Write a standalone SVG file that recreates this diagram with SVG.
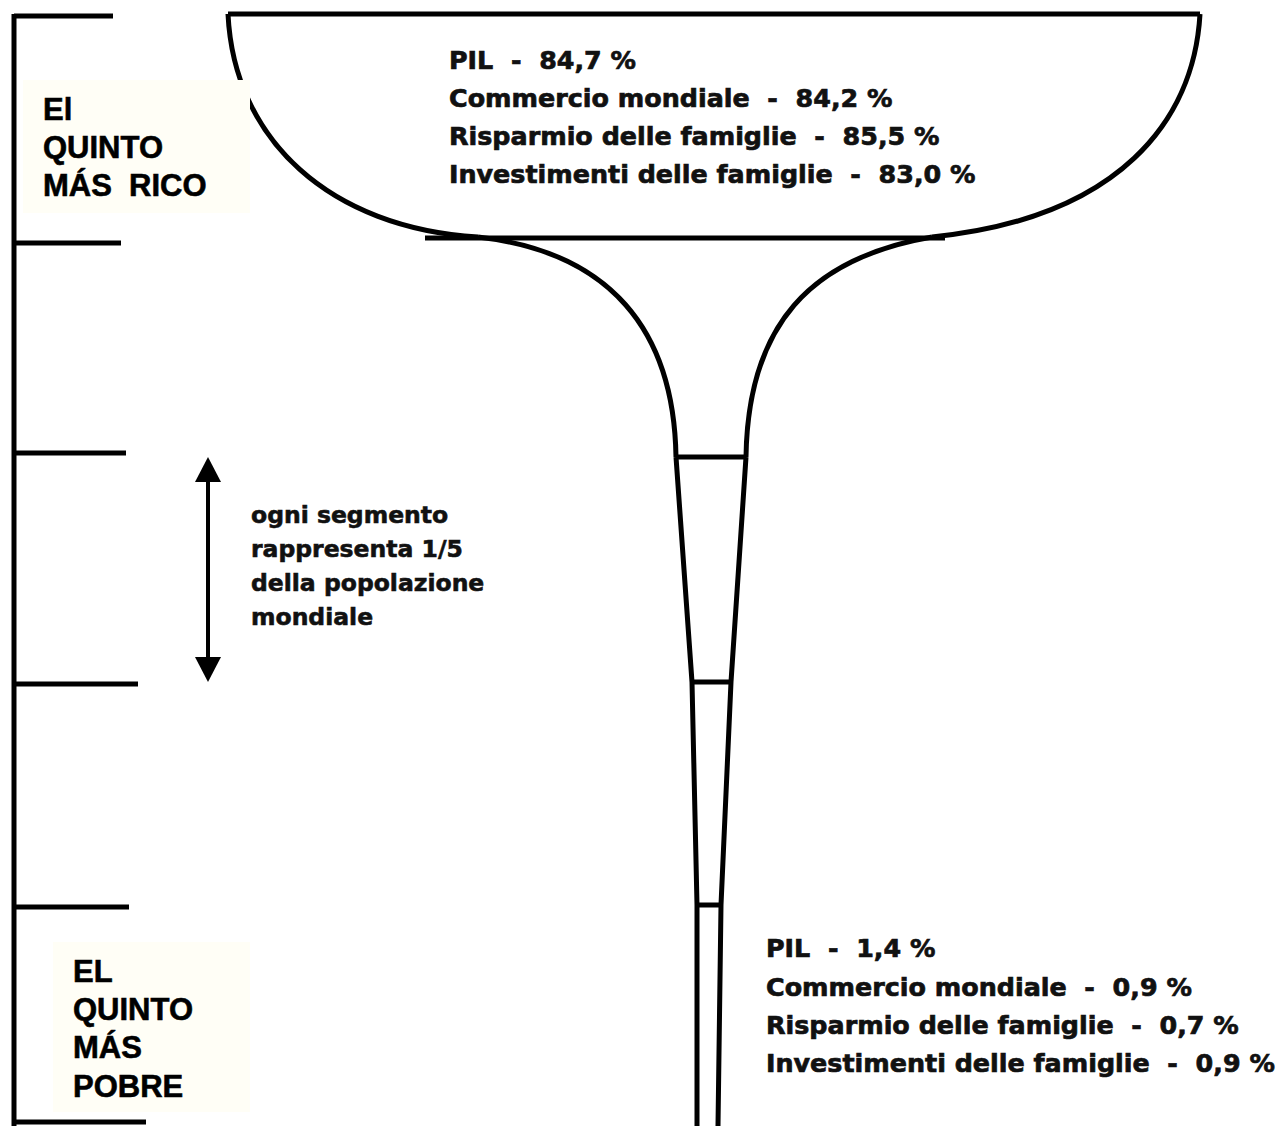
<svg xmlns="http://www.w3.org/2000/svg" width="1280" height="1126" viewBox="0 0 1280 1126">
<defs>
<style>
.ln{fill:none;stroke:#000;stroke-width:5;stroke-linecap:butt;stroke-linejoin:round}
.lab{font-family:"Liberation Sans",Arial,sans-serif;font-weight:700;font-size:31px;fill:#000;stroke:#000;stroke-width:0.6}
.dat{font-family:"DejaVu Sans",sans-serif;font-weight:bold;font-size:25.4px;fill:#111;stroke:#111;stroke-width:0.7;white-space:pre}
.mid{font-family:"DejaVu Sans",sans-serif;font-weight:bold;font-size:23.5px;fill:#111;stroke:#111;stroke-width:0.6}
.box{fill:#fffef6}
</style>
</defs>
<rect width="1280" height="1126" fill="#fff"/>

<g id="scale">
<path class="ln" d="M14,14 V1126"/>
<path class="ln" d="M14,16 H113"/>
<path class="ln" d="M14,243 H121"/>
<path class="ln" d="M14,453 H126"/>
<path class="ln" d="M14,684 H138"/>
<path class="ln" d="M14,907 H129"/>
<path class="ln" d="M14,1122 H146"/>
</g>

<g id="funnel">
<path class="ln" d="M228,14 H1200"/>
<path class="ln" d="M228,14 C234,140 330,228 478,237"/>
<path class="ln" d="M1200,14 C1194,120 1120,218 932,237"/>
<path class="ln" d="M425,238 H945"/>
<path class="ln" d="M478,237 C610,252 674,330 676,457"/>
<path class="ln" d="M932,237 C810,258 748,325 746,457"/>
<path class="ln" d="M676,457 L692,682 L697,905 L697,1126"/>
<path class="ln" d="M746,457 L731,682 L721,905 L718,1126"/>
<path class="ln" d="M676,457 H746"/>
<path class="ln" d="M692,682 H731"/>
<path class="ln" d="M697,905 H721"/>
</g>

<g id="top-label">
<rect class="box" x="23" y="80" width="227" height="133"/>
<text class="lab" x="43" y="120">El</text>
<text class="lab" x="43" y="158">QUINTO</text>
<text class="lab" x="43" y="196" xml:space="preserve">MÁS  RICO</text>
</g>

<g id="bottom-label">
<rect class="box" x="53" y="942" width="197" height="170"/>
<text class="lab" x="73" y="982">EL</text>
<text class="lab" x="73" y="1020">QUINTO</text>
<text class="lab" x="73" y="1058">MÁS</text>
<text class="lab" x="73" y="1097">POBRE</text>
</g>

<g id="top-data">
<text class="dat" x="449" y="69" xml:space="preserve">PIL  -  84,7 %</text>
<text class="dat" x="449" y="107" xml:space="preserve">Commercio mondiale  -  84,2 %</text>
<text class="dat" x="449" y="145" xml:space="preserve">Risparmio delle famiglie  -  85,5 %</text>
<text class="dat" x="449" y="183" xml:space="preserve">Investimenti delle famiglie  -  83,0 %</text>
</g>

<g id="bottom-data">
<text class="dat" x="766" y="957" xml:space="preserve">PIL  -  1,4 %</text>
<text class="dat" x="766" y="996" xml:space="preserve">Commercio mondiale  -  0,9 %</text>
<text class="dat" x="766" y="1034" xml:space="preserve">Risparmio delle famiglie  -  0,7 %</text>
<text class="dat" x="766" y="1072" xml:space="preserve">Investimenti delle famiglie  -  0,9 %</text>
</g>

<g id="connectors">
<path d="M208,470 V670" stroke="#000" stroke-width="4" fill="none"/>
<path d="M208,457 L221,482 L195,482 z" fill="#000"/>
<path d="M208,682 L221,657 L195,657 z" fill="#000"/>
</g>

<g id="legend">
<text class="mid" x="251" y="523">ogni segmento</text>
<text class="mid" x="251" y="557">rappresenta 1/5</text>
<text class="mid" x="251" y="591">della popolazione</text>
<text class="mid" x="251" y="625">mondiale</text>
</g>
</svg>
